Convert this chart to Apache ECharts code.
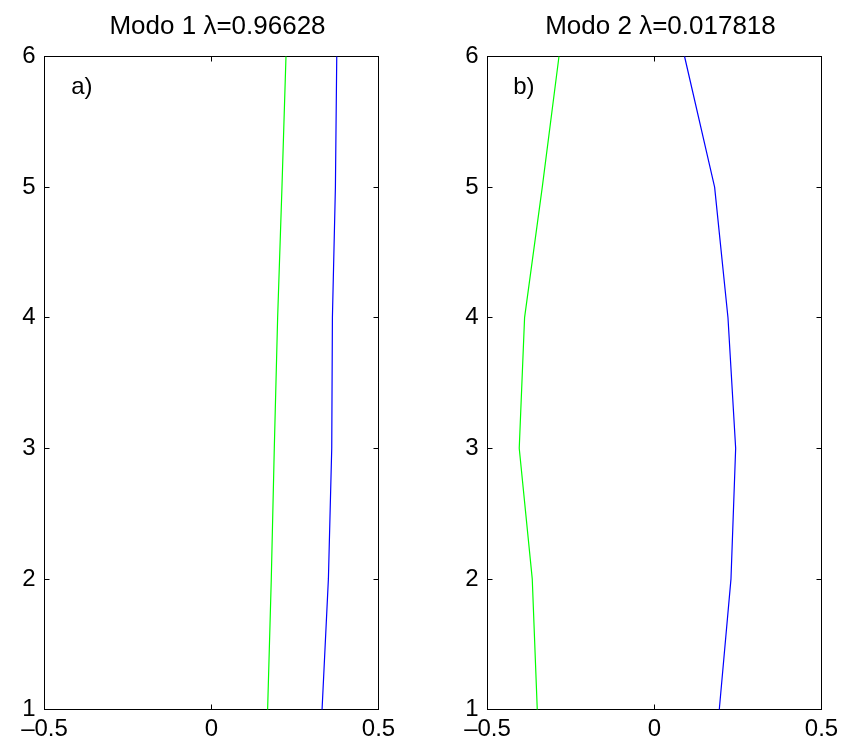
<!DOCTYPE html>
<html>
<head>
<meta charset="utf-8">
<script src="https://cdn.jsdelivr.net/npm/echarts@6/dist/echarts.min.js"></script>
<style>
html,body{margin:0;padding:0;background:#fff;}
#c{width:842px;height:744px;}
</style>
</head>
<body>
<div id="c"></div>
<script>
// Levels (y axis)
const levels = [1, 2, 3, 4, 5, 6];
// Mode 1
const mode1Title = 'Modo 1 λ=0.96628';
const mode1Green = [0.168, 0.179, 0.188, 0.198, 0.211, 0.223];
const mode1Blue  = [0.331, 0.350, 0.360, 0.362, 0.371, 0.375];
// Mode 2
const mode2Title = 'Modo 2 λ=0.017818';
const mode2Green = [-0.351, -0.366, -0.405, -0.389, -0.336, -0.286];
const mode2Blue  = [0.194, 0.229, 0.243, 0.220, 0.180, 0.090];
// Panel labels
const panelLabels = ['a)', 'b)'];
const panelLabelPos = [[-0.42, 5.76], [-0.423, 5.76]];
// Axis ticks
const xMin = -0.5, xMax = 0.5, xStep = 0.5;
const yMin = 1, yMax = 6, yStep = 1;

const FONT = 'Liberation Sans, Arial, Helvetica, sans-serif';
const pair = (xs) => xs.map((x, i) => [x, levels[i]]);
const fmtX = (v) => (v < 0 ? '\u2013' + String(Math.abs(v)) : String(v));

const grids = [
  {left: 44.5, top: 56.5, width: 334, height: 653},
  {left: 487.5, top: 56.5, width: 334, height: 653}
];

const xAxes = [], yAxes = [];
grids.forEach((g, gi) => {
  ['bottom', 'top'].forEach((pos) => {
    xAxes.push({
      type: 'value', gridIndex: gi, position: pos, min: xMin, max: xMax, interval: xStep,
      axisLine: {show: true, onZero: false, lineStyle: {color: '#000', width: 1}},
      axisTick: {show: true, inside: true, length: 5, lineStyle: {color: '#000'}},
      axisLabel: {show: pos === 'bottom', color: '#000', fontSize: 24, fontFamily: FONT, margin: 8, formatter: fmtX},
      splitLine: {show: false}
    });
  });
  ['left', 'right'].forEach((pos) => {
    yAxes.push({
      type: 'value', gridIndex: gi, position: pos, min: yMin, max: yMax, interval: yStep,
      axisLine: {show: true, onZero: false, lineStyle: {color: '#000', width: 1}},
      axisTick: {show: true, inside: true, length: 5, lineStyle: {color: '#000'}},
      axisLabel: {show: pos === 'left', color: '#000', fontSize: 24, fontFamily: FONT, margin: 9},
      splitLine: {show: false}
    });
  });
});

function lineSeries(gi, data, color) {
  return {
    type: 'line', xAxisIndex: gi * 2, yAxisIndex: gi * 2, data: pair(data),
    showSymbol: false, symbol: 'none', animation: false,
    lineStyle: {color: color, width: 1.2}, z: 3
  };
}
function labelSeries(gi) {
  return {
    type: 'scatter', xAxisIndex: gi * 2, yAxisIndex: gi * 2,
    data: [panelLabelPos[gi]], symbolSize: 0, animation: false, silent: true,
    itemStyle: {opacity: 1},
    label: {show: true, position: 'inside', formatter: panelLabels[gi], color: '#000', opacity: 1, fontSize: 24, fontFamily: FONT, align: 'left', verticalAlign: 'middle', textBorderWidth: 0}
  };
}

const option = {
  backgroundColor: '#fff',
  animation: false,
  title: [
    {text: mode1Title, left: 212.5, top: 9, textAlign: 'center', textStyle: {fontSize: 26, fontWeight: 'normal', color: '#000', fontFamily: FONT}},
    {text: mode2Title, left: 655.5, top: 9, textAlign: 'center', textStyle: {fontSize: 26, fontWeight: 'normal', color: '#000', fontFamily: FONT}}
  ],
  grid: grids,
  xAxis: xAxes,
  yAxis: yAxes,
  series: [
    lineSeries(0, mode1Green, '#00ff00'),
    lineSeries(0, mode1Blue, '#0000ff'),
    lineSeries(1, mode2Green, '#00ff00'),
    lineSeries(1, mode2Blue, '#0000ff'),
    labelSeries(0),
    labelSeries(1)
  ]
};
const chart = echarts.init(document.getElementById('c'), null, {renderer: 'canvas'});
chart.setOption(option);
</script>
</body>
</html>
